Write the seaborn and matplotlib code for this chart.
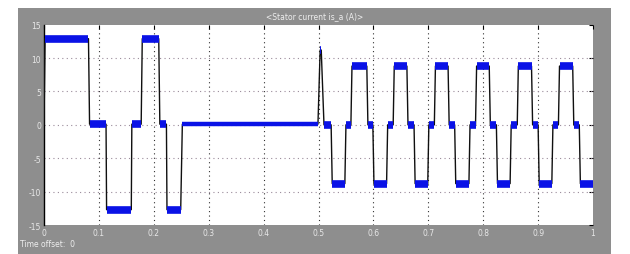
import matplotlib
matplotlib.use("Agg")
import matplotlib.pyplot as plt
import seaborn as sns
import pandas as pd
from matplotlib.patches import Rectangle

# ---- data ----
plateau_start = [0.002, 0.083, 0.114, 0.160, 0.179, 0.211, 0.224, 0.252, 0.503,
                 0.510, 0.525, 0.550, 0.561, 0.590, 0.601, 0.626, 0.638, 0.663,
                 0.676, 0.701, 0.713, 0.738, 0.750, 0.776, 0.788, 0.813, 0.826,
                 0.851, 0.864, 0.890, 0.902, 0.927, 0.939, 0.965, 0.977]
plateau_end = [0.081, 0.113, 0.159, 0.177, 0.209, 0.223, 0.249, 0.499, 0.505,
               0.523, 0.548, 0.559, 0.588, 0.599, 0.624, 0.636, 0.661, 0.674,
               0.699, 0.711, 0.736, 0.748, 0.774, 0.786, 0.811, 0.824, 0.849,
               0.862, 0.888, 0.900, 0.925, 0.937, 0.963, 0.975, 1.000]
plateau_level = [12.9, 0.1, -12.7, 0.1, 12.9, 0.1, -12.7, 0.1, 11.2,
                 0.0, -8.8, 0.0, 8.8, 0.0, -8.8, 0.0, 8.8, 0.0,
                 -8.8, 0.0, 8.8, 0.0, -8.8, 0.0, 8.8, 0.0, -8.8,
                 0.0, 8.8, 0.0, -8.8, 0.0, 8.8, 0.0, -8.8]
start_time, start_value = 0.0, 0.0

x_ticks = [0, 0.1, 0.2, 0.3, 0.4, 0.5, 0.6, 0.7, 0.8, 0.9, 1]
x_ticklabels = ["0", "0.1", "0.2", "0.3", "0.4", "0.5", "0.6", "0.7", "0.8", "0.9", "1"]
y_ticks = [-15, -10, -5, 0, 5, 10, 15]
y_ticklabels = ["-15", "-10", "-5", "0", "5", "10", "15"]
title = "<Stator current is_a (A)>"
footer = "Time offset:  0"

# ---- build trace ----
t_trace = [start_time]
v_trace = [start_value]
for s, e, lv in zip(plateau_start, plateau_end, plateau_level):
    t_trace += [s, e]
    v_trace += [lv, lv]
trace = pd.DataFrame({"t": t_trace, "v": v_trace})

sns.set_style("white")
plt.rcParams["font.family"] = ["DejaVu Sans"]

fig = plt.figure(figsize=(6.3, 2.55), dpi=100)
fig.patch.set_facecolor("white")
fig.patches.append(Rectangle((18 / 630, 0), (611 - 18) / 630, (255 - 9) / 255,
                             transform=fig.transFigure, facecolor="#8e8e8e",
                             edgecolor="none", zorder=-10))

ax = fig.add_axes([44 / 630, 29 / 255, (593 - 44) / 630, (226 - 25.7) / 255])
ax.set_facecolor("white")

# thin trace (transitions)
sns.lineplot(data=trace, x="t", y="v", ax=ax, color="#101010", linewidth=1.0,
             estimator=None, sort=False, zorder=3)

# thick noisy plateaus (blue band)
for s, e, lv in zip(plateau_start, plateau_end, plateau_level):
    band = pd.DataFrame({"t": [s, e], "v": [lv, lv]})
    lw = 3.2 if (e - s) > 0.15 else 5.5
    sns.lineplot(data=band, x="t", y="v", ax=ax, color="#0a12e6",
                 linewidth=lw, estimator=None, sort=False, zorder=4,
                 solid_capstyle="butt")

ax.set_xlim(0, 1)
ax.set_ylim(-15, 15)
ax.set_xticks(x_ticks)
ax.set_xticklabels(x_ticklabels)
ax.set_yticks(y_ticks)
ax.set_yticklabels(y_ticklabels)
ax.set_xlabel("")
ax.set_ylabel("")

for xv in x_ticks[1:-1]:
    ax.axvline(xv, color="#303030", linestyle=(0, (1, 3)), linewidth=0.8, zorder=1)
for yv in y_ticks[1:-1]:
    ax.axhline(yv, color="#9a8a9a", linestyle=(0, (1, 3)), linewidth=0.8, zorder=1)

ax.tick_params(axis="both", direction="in", length=3, width=0.8, color="black",
               labelsize=5.5, labelcolor="#e8e8e8", top=True, right=True, pad=2)
for side in ["top", "right", "bottom"]:
    ax.spines[side].set_visible(False)
ax.spines["left"].set_visible(True)
ax.spines["left"].set_color("black")
ax.spines["left"].set_linewidth(1.0)

fig.text(315 / 630, 1 - 17 / 255, title, ha="center", va="center",
         fontsize=5.5, color="#eeeeee")
fig.text(20 / 630, 1 - 245 / 255, footer, ha="left", va="center",
         fontsize=5.5, color="#eeeeee")

fig.savefig("out.png", dpi=100, facecolor=fig.get_facecolor())
